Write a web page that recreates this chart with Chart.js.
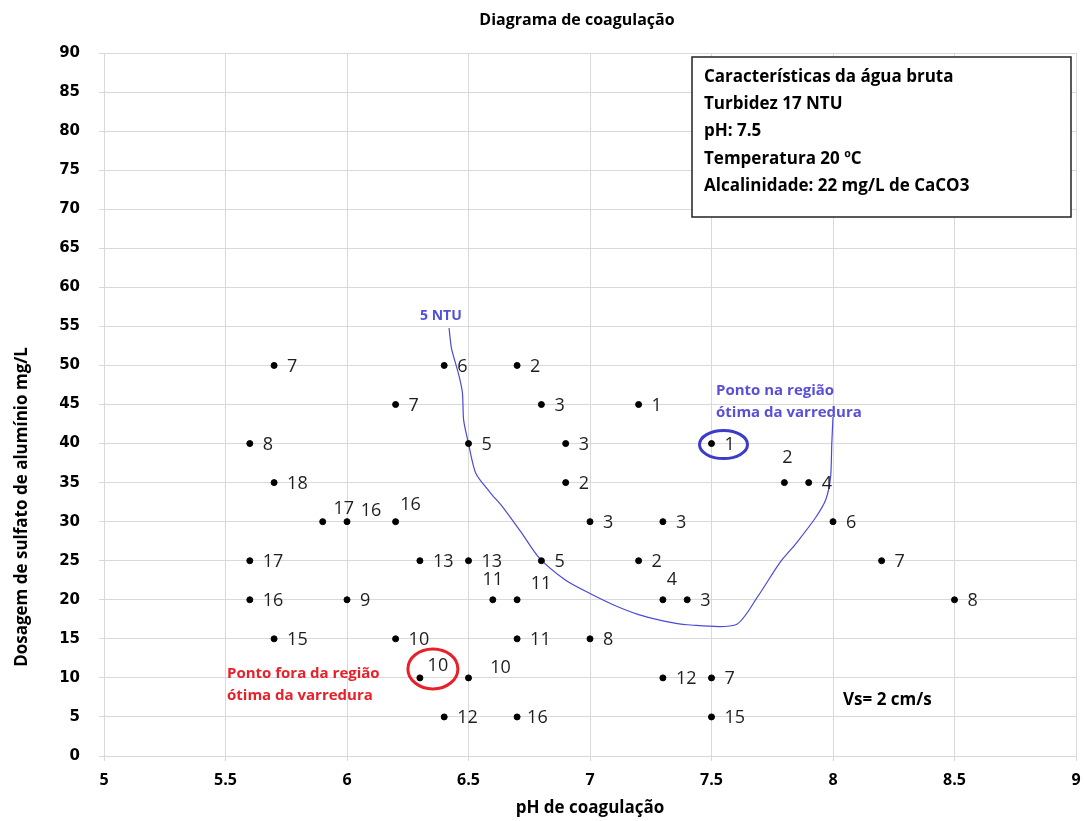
<!DOCTYPE html>
<html>
<head>
<meta charset="utf-8">
<script src="https://cdn.jsdelivr.net/npm/chart.js@4.4.0/dist/chart.umd.min.js"></script>
<style>
  body { margin: 0; background: #fff; }
  #wrap { width: 1084px; height: 821px; position: relative; }
</style>
</head>
<body>
<div id="wrap"><canvas id="chart"></canvas></div>
<script>
// pontos do ensaio de jarros (pH, dosagem, turbidez remanescente NTU)
const phX   = [5.7, 6.4, 6.7,  6.2, 6.8, 7.2,  5.6, 6.5, 6.9, 7.5,  5.7, 6.9, 7.8, 7.9,
               5.9, 6.0, 6.2, 7.0, 7.3, 8.0,  5.6, 6.3, 6.5, 6.8, 7.2, 8.2,
               5.6, 6.0, 6.6, 6.7, 7.3, 7.4, 8.5,  5.7, 6.2, 6.7, 7.0,
               6.3, 6.5, 7.3, 7.5,  6.4, 6.7, 7.5];
const doseY = [50, 50, 50,  45, 45, 45,  40, 40, 40, 40,  35, 35, 35, 35,
               30, 30, 30, 30, 30, 30,  25, 25, 25, 25, 25, 25,
               20, 20, 20, 20, 20, 20, 20,  15, 15, 15, 15,
               10, 10, 10, 10,  5, 5, 5];
const ntu   = [7, 6, 2,  7, 3, 1,  8, 5, 3, 1,  18, 2, 2, 4,
               17, 16, 16, 3, 3, 6,  17, 13, 13, 5, 2, 7,
               16, 9, 11, 11, 4, 3, 8,  15, 10, 11, 8,
               10, 10, 12, 7,  12, 16, 15];

// curva de 5 NTU
const curveX = [6.42, 6.43, 6.46, 6.475, 6.48, 6.5, 6.53, 6.59, 6.64, 6.72, 6.79, 6.9, 7.0,
                7.1, 7.2, 7.3, 7.4, 7.6, 7.69, 7.78, 7.85, 7.93, 7.97, 7.99, 7.995, 8.0];
const curveY = [54.8, 52.2, 48.8, 46.5, 43, 40, 36.2, 33.7, 31.9, 28.5, 25.4, 22.5, 20.8,
                19.3, 18.1, 17.3, 16.8, 16.8, 20.4, 24.7, 27.3, 30.6, 32.8, 35.7, 40, 43.4];

const xTicks = [5, 5.5, 6, 6.5, 7, 7.5, 8, 8.5, 9];
const yTicks = [0, 5, 10, 15, 20, 25, 30, 35, 40, 45, 50, 55, 60, 65, 70, 75, 80, 85, 90];

const infoLines = ['Características da água bruta', 'Turbidez 17 NTU', 'pH: 7.5',
                   'Temperatura 20 ºC', 'Alcalinidade: 22 mg/L de CaCO3'];

// onde vai o rótulo de alguns pontos (padrão: à direita)
const labelPos = {
  12: [3, -25, 'center'], 14: [21, -13, 'center'], 15: [24, -11, 'center'], 16: [15, -17, 'center'],
  28: [0, -20, 'center'], 29: [24, -16, 'center'], 30: [9, -20, 'center'],
  37: [18, -12, 'center'], 38: [32, -10, 'center'], 42: [10, 1, 'left']
};

const pontos = phX.map((v, i) => ({ x: v, y: doseY[i] }));
const curva = curveX.map((v, i) => ({ x: v, y: curveY[i] }));

const anotacoes = {
  id: 'anotacoes',
  afterDatasetsDraw(chart) {
    const { ctx, chartArea: ca, scales: { x, y } } = chart;
    ctx.save();

    // rótulos de turbidez
    ctx.font = '18px "Open Sans"';
    ctx.fillStyle = '#1e1e1e';
    ctx.textBaseline = 'middle';
    ntu.forEach((t, i) => {
      const px = x.getPixelForValue(phX[i]);
      const py = y.getPixelForValue(doseY[i]);
      const p = labelPos[i] || [13, 1, 'left'];
      ctx.textAlign = p[2];
      ctx.fillText(String(t), px + p[0], py + p[1]);
    });

    // elipses
    ctx.lineWidth = 3;
    ctx.strokeStyle = '#e8202a';
    ctx.beginPath();
    ctx.ellipse(x.getPixelForValue(phX[37]) + 13, y.getPixelForValue(doseY[37]) - 9, 25, 20, 0, 0, Math.PI * 2);
    ctx.stroke();
    ctx.strokeStyle = '#3c3cc8';
    ctx.beginPath();
    ctx.ellipse(x.getPixelForValue(phX[9]) + 12, y.getPixelForValue(doseY[9]) + 1, 24, 14, 0, 0, Math.PI * 2);
    ctx.stroke();

    // textos
    ctx.textAlign = 'left';
    ctx.font = 'bold 14px "Open Sans"';
    ctx.fillStyle = '#5050d8';
    ctx.fillText('5 NTU', 420, 316);
    ctx.font = 'bold 15px "Open Sans"';
    ctx.fillStyle = '#5a50d8';
    ctx.fillText('Ponto na região', 716, 391);
    ctx.fillText('ótima da varredura', 716, 413);
    ctx.fillStyle = '#e8202a';
    ctx.fillText('Ponto fora da região', 227, 674);
    ctx.fillText('ótima da varredura', 227, 696);
    ctx.fillStyle = '#000';
    ctx.font = 'bold 17px "Open Sans"';
    ctx.fillText('Vs= 2 cm/s', 843, 700);

    // caixa de características
    ctx.fillStyle = '#fff';
    ctx.fillRect(692, 57, 379, 160);
    ctx.lineWidth = 1.5;
    ctx.strokeStyle = '#222';
    ctx.strokeRect(692, 57, 379, 160);
    ctx.fillStyle = '#000';
    ctx.font = 'bold 17px "Open Sans"';
    infoLines.forEach((l, i) => ctx.fillText(l, 704, 77 + i * 27.3));

    // título e eixos
    ctx.textAlign = 'center';
    ctx.font = 'bold 16px "Open Sans"';
    ctx.fillText('Diagrama de coagulação', 577, 20);
    ctx.font = 'bold 17px "Open Sans"';
    ctx.fillText('pH de coagulação', (ca.left + ca.right) / 2, 808);
    ctx.translate(22, 507);
    ctx.rotate(-Math.PI / 2);
    ctx.fillText('Dosagem de sulfato de alumínio mg/L', 0, 0);
    ctx.restore();
  }
};

new Chart(document.getElementById('chart'), {
  type: 'scatter',
  data: {
    datasets: [
      { label: 'pontos', data: pontos, backgroundColor: '#000', borderColor: '#000', pointRadius: 3, pointHoverRadius: 3 },
      { label: '5 NTU', data: curva, showLine: true, borderColor: '#4a4ad8', borderWidth: 1.2,
        pointRadius: 0, tension: 0.25, fill: false }
    ]
  },
  options: {
    responsive: true,
    maintainAspectRatio: false,
    animation: false,
    layout: { padding: { top: 53, right: 8, left: 0, bottom: 0 } },
    plugins: { legend: { display: false }, tooltip: { enabled: false }, title: { display: false } },
    scales: {
      x: {
        type: 'linear', min: 5, max: 9,
        afterBuildTicks: s => { s.ticks = xTicks.map(v => ({ value: v })); },
        afterFit: s => { s.height = 65; s.paddingRight = 0; s.paddingLeft = 0; },
        grid: { color: '#d9d9d9', tickLength: 5 },
        border: { color: '#d9d9d9' },
        ticks: { color: '#000', font: { family: 'Open Sans', weight: 'bold', size: 16 }, padding: 10,
                 maxRotation: 0, callback: v => String(v) }
      },
      y: {
        type: 'linear', min: 0, max: 90,
        afterBuildTicks: s => { s.ticks = yTicks.map(v => ({ value: v })); },
        afterFit: s => { s.width = 104; },
        grid: { color: '#d9d9d9', tickLength: 5 },
        border: { color: '#d9d9d9' },
        ticks: { color: '#000', font: { family: 'DejaVu Sans', weight: 'bold', size: 15 }, padding: 19 }
      }
    }
  },
  plugins: [anotacoes]
});
</script>
</body>
</html>
